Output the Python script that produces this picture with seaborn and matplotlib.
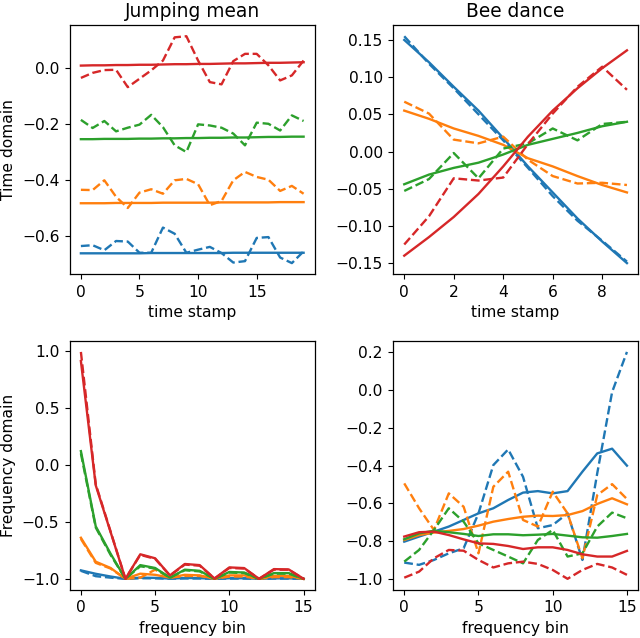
import numpy as np
import pandas as pd
import seaborn as sns
import matplotlib
matplotlib.use('Agg')
import matplotlib.pyplot as plt


# ---- Jumping mean, time domain (x = 0..19)
jm_time_solid = {
    'C0': [-0.662, -0.662, -0.662, -0.662, -0.662, -0.662, -0.661, -0.661, -0.661, -0.661,
           -0.661, -0.661, -0.661, -0.660, -0.660, -0.660, -0.660, -0.660, -0.660, -0.660],
    'C1': [-0.483, -0.483, -0.483, -0.482, -0.482, -0.482, -0.482, -0.481, -0.481, -0.481,
           -0.481, -0.481, -0.480, -0.480, -0.480, -0.480, -0.480, -0.479, -0.479, -0.479],
    'C2': [-0.254, -0.254, -0.253, -0.253, -0.253, -0.252, -0.252, -0.251, -0.251, -0.250,
           -0.250, -0.249, -0.249, -0.248, -0.248, -0.247, -0.246, -0.246, -0.245, -0.245],
    'C3': [0.009, 0.010, 0.010, 0.011, 0.011, 0.012, 0.012, 0.013, 0.014, 0.014,
           0.015, 0.015, 0.016, 0.017, 0.017, 0.018, 0.019, 0.019, 0.020, 0.021],
}
jm_time_dashed = {
    'C0': [-0.636, -0.633, -0.651, -0.618, -0.620, -0.660, -0.660, -0.570, -0.592, -0.660,
           -0.649, -0.639, -0.661, -0.695, -0.690, -0.607, -0.604, -0.677, -0.697, -0.655],
    'C1': [-0.435, -0.436, -0.401, -0.460, -0.500, -0.445, -0.433, -0.449, -0.401, -0.396,
           -0.415, -0.490, -0.475, -0.401, -0.371, -0.389, -0.399, -0.439, -0.421, -0.449],
    'C2': [-0.185, -0.214, -0.189, -0.226, -0.213, -0.202, -0.167, -0.211, -0.276, -0.300,
           -0.201, -0.205, -0.213, -0.234, -0.276, -0.195, -0.199, -0.223, -0.169, -0.189],
    'C3': [-0.035, -0.017, -0.007, -0.006, -0.068, -0.038, -0.008, 0.027, 0.110, 0.114,
           0.027, -0.050, -0.058, 0.025, 0.051, 0.051, 0.010, -0.044, -0.026, 0.027],
}

# ---- Bee dance, time domain (x = 0..9)
bd_time_solid = {
    'C0': [0.150, 0.120, 0.087, 0.055, 0.018, -0.020, -0.055, -0.090, -0.121, -0.150],
    'C1': [0.055, 0.044, 0.031, 0.021, 0.009, -0.009, -0.020, -0.033, -0.045, -0.055],
    'C2': [-0.044, -0.031, -0.022, -0.015, -0.004, 0.009, 0.017, 0.025, 0.034, 0.040],
    'C3': [-0.140, -0.115, -0.088, -0.057, -0.020, 0.020, 0.055, 0.085, 0.112, 0.136],
}
bd_time_dashed = {
    'C0': [0.155, 0.118, 0.085, 0.050, 0.015, -0.022, -0.060, -0.093, -0.120, -0.148],
    'C1': [0.067, 0.051, 0.016, 0.011, 0.020, -0.011, -0.033, -0.043, -0.042, -0.045],
    'C2': [-0.053, -0.037, -0.002, -0.036, 0.004, 0.011, 0.031, 0.015, 0.037, 0.040],
    'C3': [-0.125, -0.087, -0.036, -0.039, -0.035, 0.010, 0.051, 0.087, 0.114, 0.083],
}

# ---- Jumping mean, frequency domain (x = 0..15)
jm_freq_solid = {
    'C0': [-0.926, -0.956, -0.980, -1.000, -0.990, -0.992, -0.998, -0.993, -0.994, -1.000,
           -0.995, -0.995, -1.000, -0.996, -0.996, -1.000],
    'C1': [-0.640, -0.850, -0.905, -1.000, -0.955, -0.965, -0.990, -0.965, -0.970, -1.000,
           -0.970, -0.970, -1.000, -0.975, -0.975, -1.000],
    'C2': [0.120, -0.540, -0.780, -1.000, -0.880, -0.905, -0.990, -0.920, -0.930, -1.000,
           -0.940, -0.945, -1.000, -0.950, -0.950, -1.000],
    'C3': [0.910, -0.180, -0.590, -1.000, -0.785, -0.820, -0.970, -0.870, -0.880, -0.997,
           -0.900, -0.906, -1.000, -0.915, -0.918, -1.000],
}
jm_freq_dashed = {
    'C0': [-0.930, -0.977, -0.990, -1.000, -0.995, -0.996, -0.999, -0.997, -0.997, -1.000,
           -0.998, -0.998, -1.000, -0.998, -0.998, -1.000],
    'C1': [-0.650, -0.860, -0.910, -1.000, -0.990, -0.920, -0.990, -0.975, -0.975, -1.000,
           -0.980, -0.980, -1.000, -0.985, -0.985, -1.000],
    'C2': [0.100, -0.550, -0.790, -1.000, -0.890, -0.910, -0.990, -0.925, -0.935, -1.000,
           -0.945, -0.950, -1.000, -0.955, -0.955, -1.000],
    'C3': [0.990, -0.170, -0.585, -1.000, -0.790, -0.825, -0.972, -0.875, -0.885, -0.998,
           -0.905, -0.910, -1.000, -0.920, -0.920, -1.000],
}

# ---- Bee dance, frequency domain (x = 0..15)
bd_freq_solid = {
    'C0': [-0.803, -0.776, -0.750, -0.723, -0.688, -0.653, -0.626, -0.582, -0.543, -0.535,
           -0.547, -0.535, -0.432, -0.335, -0.310, -0.400],
    'C1': [-0.794, -0.768, -0.755, -0.746, -0.736, -0.718, -0.697, -0.683, -0.671, -0.665,
           -0.667, -0.662, -0.641, -0.603, -0.573, -0.605],
    'C2': [-0.790, -0.759, -0.745, -0.753, -0.762, -0.773, -0.764, -0.764, -0.769, -0.766,
           -0.762, -0.771, -0.780, -0.782, -0.773, -0.762],
    'C3': [-0.776, -0.753, -0.750, -0.768, -0.791, -0.812, -0.815, -0.826, -0.842, -0.833,
           -0.833, -0.847, -0.870, -0.882, -0.882, -0.852],
}
bd_freq_dashed = {
    'C0': [-0.914, -0.926, -0.900, -0.865, -0.838, -0.653, -0.397, -0.314, -0.459, -0.732,
           -0.715, -0.653, -0.900, -0.440, -0.010, 0.203],
    'C1': [-0.494, -0.626, -0.741, -0.547, -0.618, -0.865, -0.512, -0.432, -0.688, -0.723,
           -0.538, -0.653, -0.891, -0.556, -0.498, -0.577],
    'C2': [-0.909, -0.847, -0.741, -0.626, -0.697, -0.812, -0.847, -0.882, -0.918, -0.794,
           -0.741, -0.882, -0.865, -0.723, -0.649, -0.679],
    'C3': [-0.994, -0.962, -0.891, -0.847, -0.851, -0.900, -0.940, -0.918, -0.909, -0.921,
           -0.953, -1.000, -0.953, -0.921, -0.940, -0.979],
}

series_order = ['C0', 'C1', 'C2', 'C3']
palette = {'C0': '#1f77b4', 'C1': '#ff7f0e', 'C2': '#2ca02c', 'C3': '#d62728'}

# the reference looks like a default matplotlib figure scaled up ~1.12x
plt.rcParams['font.size'] = 11.2
plt.rcParams['xtick.major.size'] = 3.9
plt.rcParams['ytick.major.size'] = 3.9
plt.rcParams['axes.linewidth'] = 0.9


def to_long(solid, dashed):
    rows = []
    for kind, block in (('solid', solid), ('dashed', dashed)):
        for name in series_order:
            for i, v in enumerate(block[name]):
                rows.append({'x': i, 'value': v, 'series': name, 'kind': kind})
    return pd.DataFrame(rows)


def draw(ax, solid, dashed):
    df = to_long(solid, dashed)
    sns.lineplot(data=df, x='x', y='value', hue='series', hue_order=series_order,
                 style='kind', style_order=['solid', 'dashed'],
                 dashes={'solid': '', 'dashed': (3.7, 1.6)},
                 palette=palette, linewidth=1.7, legend=False, ax=ax)
    ax.set_xlabel('')
    ax.set_ylabel('')


fig, axes = plt.subplots(2, 2, figsize=(6.4, 6.38), dpi=100)
plt.subplots_adjust(left=0.109, right=0.997, top=0.961, bottom=0.075,
                    wspace=0.32, hspace=0.265)

draw(axes[0, 0], jm_time_solid, jm_time_dashed)
draw(axes[0, 1], bd_time_solid, bd_time_dashed)
draw(axes[1, 0], jm_freq_solid, jm_freq_dashed)
draw(axes[1, 1], bd_freq_solid, bd_freq_dashed)

axes[0, 0].set_title('Jumping mean', fontsize=13.4, pad=6)
axes[0, 1].set_title('Bee dance', fontsize=13.4, pad=6)
axes[0, 0].set_ylabel('Time domain')
axes[1, 0].set_ylabel('Frequency domain')
axes[0, 0].set_xlabel('time stamp')
axes[0, 1].set_xlabel('time stamp')
axes[1, 0].set_xlabel('frequency bin')
axes[1, 1].set_xlabel('frequency bin')

axes[0, 0].set_xticks([0, 5, 10, 15])
axes[0, 1].set_xticks([0, 2, 4, 6, 8])
axes[1, 0].set_xticks([0, 5, 10, 15])
axes[1, 1].set_xticks([0, 5, 10, 15])

fig.savefig('out.png', dpi=100)
